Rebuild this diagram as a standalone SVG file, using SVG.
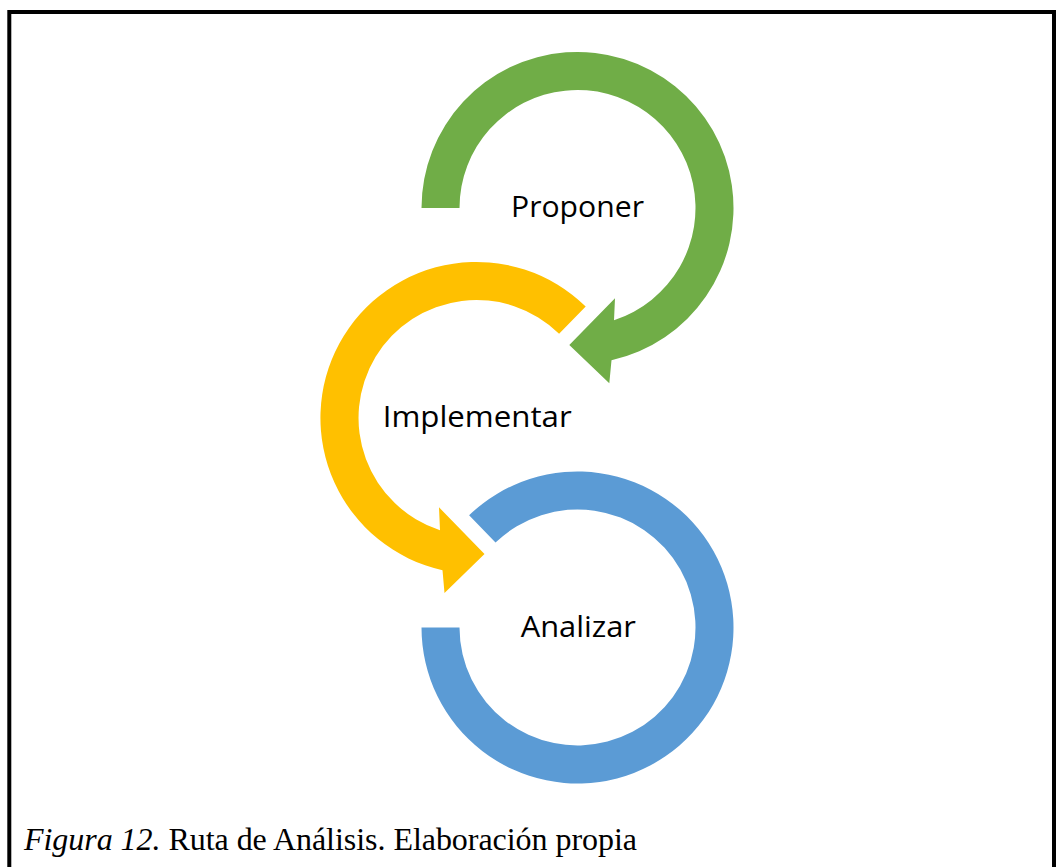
<svg xmlns="http://www.w3.org/2000/svg" width="1058" height="867" viewBox="0 0 1058 867">
<style>
.lbl{font-family:"Open Sans","Noto Sans","Liberation Sans",sans-serif;font-size:29px;fill:#000}
.cap{font-family:"Liberation Serif","Times New Roman",serif;font-size:32px;fill:#000}
.green{fill:#70AD47}
.yellow{fill:#FFC000}
.blue{fill:#5B9BD5}
</style>
<rect width="1058" height="867" fill="#fff"/>
<path d="M9.3 867 V12 H1054 V867" fill="none" stroke="#000" stroke-width="4"/>
<g id="connectors">
<path id="arrow-proponer" class="green" d="M421.5 208 A156 156 0 1 1 611.5 360.2 L609.3 383.3 L569.3 345 L615 298.3 L614 320.2 A118 118 0 1 0 459.5 208 Z"/>
<path id="arrow-implementar" class="yellow" d="M585.7 306.6 A156 156 0 1 0 442.5 570.2 L444.5 593 L484.5 554 L439 507.3 L440 530.2 A118 118 0 1 1 559.1 333.7 Z"/>
<path id="arc-analizar" class="blue" d="M469.1 515.3 A156 156 0 1 1 421.5 627.5 L459.5 627.5 A118 118 0 1 0 495.5 542.6 Z"/>
</g>
<g id="node-proponer"><text class="lbl" x="511" y="217.3" textLength="133" lengthAdjust="spacingAndGlyphs">Proponer</text></g>
<g id="node-implementar"><text class="lbl" x="382.7" y="427.3" textLength="189" lengthAdjust="spacingAndGlyphs">Implementar</text></g>
<g id="node-analizar"><text class="lbl" x="520.7" y="637.3" textLength="115.3" lengthAdjust="spacingAndGlyphs">Analizar</text></g>
<g id="caption"><text class="cap" x="24" y="850" textLength="613" lengthAdjust="spacing"><tspan font-style="italic">Figura 12.</tspan> Ruta de Análisis. Elaboración propia</text></g>
</svg>
